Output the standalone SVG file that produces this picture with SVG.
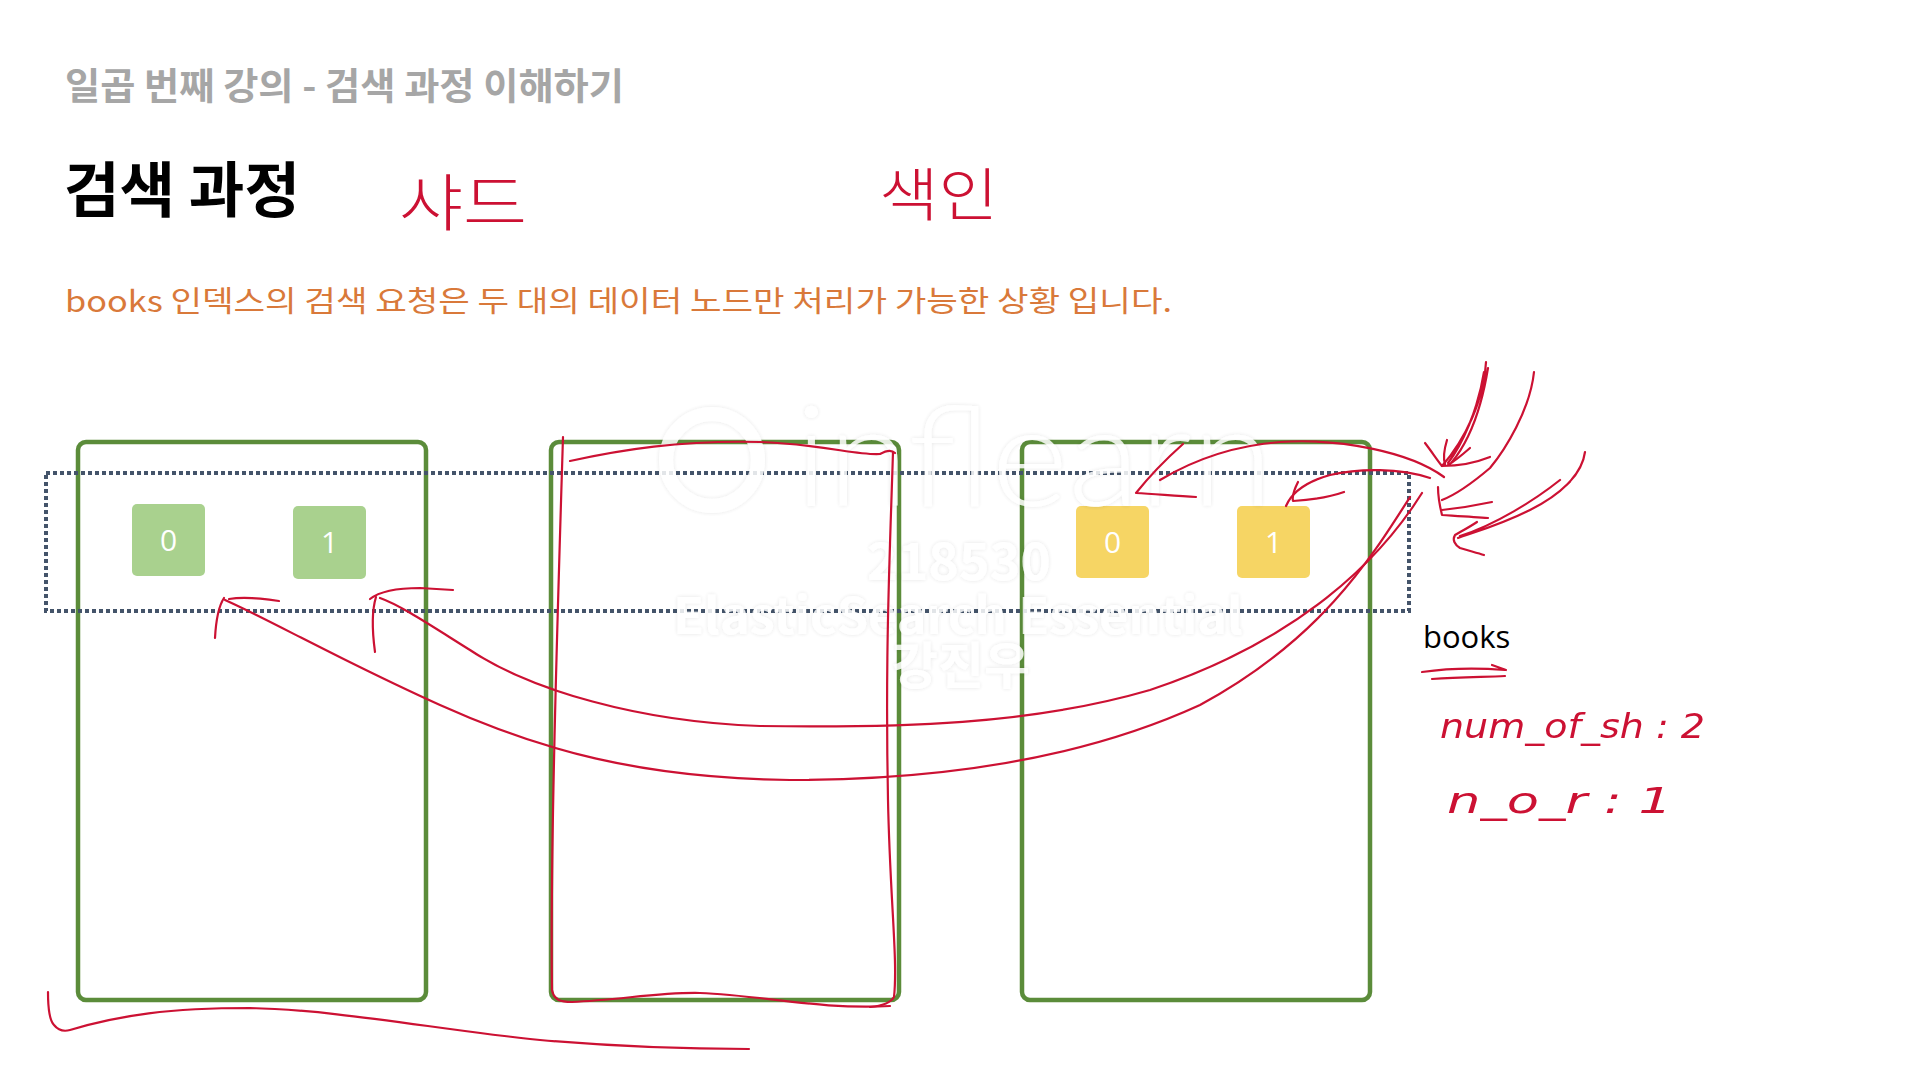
<svg xmlns="http://www.w3.org/2000/svg" width="1920" height="1080" viewBox="0 0 1920 1080">
  <defs>
    <style>
      .hdr { font-family: "Noto Sans CJK KR", "Noto Sans", sans-serif; font-weight: 700; fill: #a6a6a6; }
      .title { font-family: "Noto Sans CJK KR", "Noto Sans", sans-serif; font-weight: 700; fill: #000000; }
      .desc { font-family: "Noto Sans CJK KR", "Noto Sans", sans-serif; font-weight: 400; fill: #d9793a; }
      .node { fill: none; stroke: #5b8c3a; stroke-width: 4.5; }
      .shard-g { fill: #a9d18e; }
      .shard-y { fill: #f6d564; }
      .digit { font-family: "Open Sans", "Noto Sans", sans-serif; font-size: 30px; fill: #ffffff; text-anchor: middle; }
      .index { fill: none; stroke: #44546a; stroke-width: 4; stroke-dasharray: 4 3; }
      .label { font-family: "Open Sans", "Noto Sans", sans-serif; font-size: 31px; fill: #000000; }
      .ink { fill: none; stroke: #cc1133; stroke-width: 2.2; stroke-linecap: round; stroke-linejoin: round; }
      .hand { font-family: "Noto Sans CJK KR", "DejaVu Sans", sans-serif; font-weight: 200; fill: #cc1133; }
      .handlat { font-family: "DejaVu Sans ExtraLight", "DejaVu Sans", sans-serif; font-weight: 200; font-style: italic; fill: #cc1133; }
      .wm { font-family: "Noto Sans CJK KR", "Noto Sans", sans-serif; font-weight: 700; fill: #ffffff; filter: url(#wmShadow); }
    </style>
    <filter id="wmShadow" x="-10%" y="-30%" width="120%" height="160%">
      <feDropShadow dx="0" dy="0" stdDeviation="2.2" flood-color="#000000" flood-opacity="0.12"/>
    </filter>
  </defs>

  <rect x="0" y="0" width="1920" height="1080" fill="#ffffff"/>

  <!-- headings -->
  <text class="hdr" x="65" y="100" font-size="37" textLength="559" lengthAdjust="spacingAndGlyphs">일곱 번째 강의 - 검색 과정 이해하기</text>
  <text class="title" x="64" y="212" font-size="60" textLength="236" lengthAdjust="spacingAndGlyphs">검색 과정</text>
  <text class="desc" x="65" y="312" font-size="29" textLength="1107" lengthAdjust="spacingAndGlyphs">books 인덱스의 검색 요청은 두 대의 데이터 노드만 처리가 가능한 상황 입니다.</text>

  <!-- data nodes -->
  <g id="node-1">
    <rect class="node" x="78" y="442" width="348" height="558" rx="8"/>
    <g id="node-1-shard-0">
      <rect class="shard-g" x="132" y="504" width="73" height="72" rx="5"/>
      <text class="digit" x="168.5" y="551">0</text>
    </g>
    <g id="node-1-shard-1">
      <rect class="shard-g" x="293" y="506" width="73" height="73" rx="5"/>
      <text class="digit" x="329.5" y="553">1</text>
    </g>
  </g>
  <g id="node-2">
    <rect class="node" x="551" y="442" width="348" height="558" rx="8"/>
  </g>
  <g id="node-3">
    <rect class="node" x="1022" y="442" width="348" height="558" rx="8"/>
    <g id="node-3-shard-0">
      <rect class="shard-y" x="1076" y="506" width="73" height="72" rx="5"/>
      <text class="digit" x="1112.5" y="553">0</text>
    </g>
    <g id="node-3-shard-1">
      <rect class="shard-y" x="1237" y="506" width="73" height="72" rx="5"/>
      <text class="digit" x="1273.5" y="553">1</text>
    </g>
  </g>

  <!-- books index -->
  <g id="index-books">
    <rect class="index" x="46" y="473" width="1363" height="138"/>
    <text class="label" x="1423" y="648">books</text>
  </g>

  <!-- watermark -->
  <g id="watermark" opacity="0.85">
    <circle cx="712" cy="460" r="46" fill="none" stroke="#ffffff" stroke-width="14" filter="url(#wmShadow)"/>
    <text x="795" y="506" font-family="Lato, 'Noto Sans', sans-serif" font-weight="300" font-size="140" fill="#ffffff" filter="url(#wmShadow)" textLength="478" lengthAdjust="spacingAndGlyphs">inflearn</text>
    <text class="wm" x="959" y="580" font-size="52" text-anchor="middle">218530</text>
    <text class="wm" x="673" y="634" font-size="50" textLength="570" lengthAdjust="spacingAndGlyphs">ElasticSearch Essential</text>
    <text class="wm" x="961" y="684" font-size="50" text-anchor="middle">강진우</text>
  </g>

  <!-- handwritten annotations -->
  <g id="annotations">
    <text class="hand" x="399" y="226" font-size="62" textLength="128" lengthAdjust="spacingAndGlyphs">샤드</text>
    <text class="hand" x="879" y="216" font-size="58" textLength="119" lengthAdjust="spacingAndGlyphs">색인</text>
    <text class="handlat" x="1440" y="738" font-size="34" textLength="265" lengthAdjust="spacingAndGlyphs">num_of_sh : 2</text>
    <text class="handlat" x="1447" y="813" font-size="36" textLength="225" lengthAdjust="spacingAndGlyphs">n_o_r : 1</text>
    <!-- underline arrow under books -->
    <path class="ink" d="M 1422,672 C 1450,668 1480,668 1505,670 M 1492,665 L 1506,670 M 1432,679 C 1460,677 1485,677 1505,676"/>
    <!-- red trace around node 2 -->
    <path class="ink" d="M 570,461 C 620,450 680,440 760,442 C 820,444 860,456 880,454 C 887,450 892,450 895,453"/>
    <path class="ink" d="M 563,437 C 558,600 550,850 552,990 C 554,1000 560,1002 572,1002 C 620,1000 660,992 700,993 C 760,995 820,1010 890,1006"/>
    <path class="ink" d="M 893,452 C 890,550 885,650 888,800 C 890,900 898,960 894,997 C 890,1004 880,1006 870,1007"/>
    <!-- bottom bracket -->
    <path class="ink" d="M 48,992 C 48,1005 49,1020 54,1025 C 58,1030 63,1032 70,1030 C 120,1015 170,1008 250,1008 C 340,1010 440,1030 540,1040 C 620,1047 690,1049 749,1049"/>
  </g>

  <!-- connectors -->
  <g id="connectors">
    <!-- node-3 to node-1 shard 1 -->
    <path class="ink" d="M 1422,493 C 1380,560 1300,640 1150,690 C 1030,725 900,728 760,726 C 640,722 530,690 470,650 C 430,625 400,605 380,598"/>
    <path class="ink" d="M 375,652 C 372,630 372,610 376,597 M 370,599 C 380,591 400,588 420,588 L 453,590"/>
    <!-- node-3 to node-1 shard 0 -->
    <path class="ink" d="M 1410,497 C 1370,560 1320,640 1200,705 C 1080,760 940,780 790,780 C 640,778 540,750 440,705 C 340,660 270,620 225,600"/>
    <path class="ink" d="M 215,638 C 216,620 218,607 224,598 M 229,599 C 240,597 260,598 279,601"/>
    <!-- request arcs to yellow shards -->
    <path class="ink" d="M 1444,477 C 1410,452 1340,438 1280,442 C 1230,446 1190,462 1160,480"/>
    <path class="ink" d="M 1183,444 C 1165,460 1148,478 1136,493 C 1155,494 1176,496 1196,497"/>
    <path class="ink" d="M 1430,478 C 1400,468 1360,468 1330,475 C 1305,482 1292,492 1286,506"/>
    <path class="ink" d="M 1298,482 C 1294,490 1292,497 1293,501 C 1310,500 1330,497 1344,492"/>
    <!-- incoming request arrows -->
    <path class="ink" d="M 1486,362 C 1484,400 1465,440 1442,466 M 1484,372 C 1478,410 1462,445 1448,463 M 1488,368 C 1482,405 1470,440 1452,462"/>
    <path class="ink" d="M 1425,443 C 1432,452 1437,460 1442,466 C 1458,466 1475,463 1490,457 M 1447,440 C 1444,450 1443,458 1445,464 M 1470,448 C 1462,455 1455,461 1448,465"/>
    <path class="ink" d="M 1534,372 C 1530,410 1505,450 1490,468 C 1470,485 1455,495 1442,500"/>
    <path class="ink" d="M 1438,487 C 1438,497 1440,507 1442,515 C 1458,516 1475,517 1488,518 M 1442,510 C 1460,508 1478,505 1492,502"/>
    <path class="ink" d="M 1585,452 C 1582,475 1560,495 1530,510 C 1500,525 1475,532 1458,538 M 1560,480 C 1535,500 1495,525 1460,536"/>
    <path class="ink" d="M 1477,522 C 1468,528 1460,532 1455,535 C 1452,540 1455,545 1460,548 C 1470,551 1478,553 1484,555"/>
  </g>
</svg>
